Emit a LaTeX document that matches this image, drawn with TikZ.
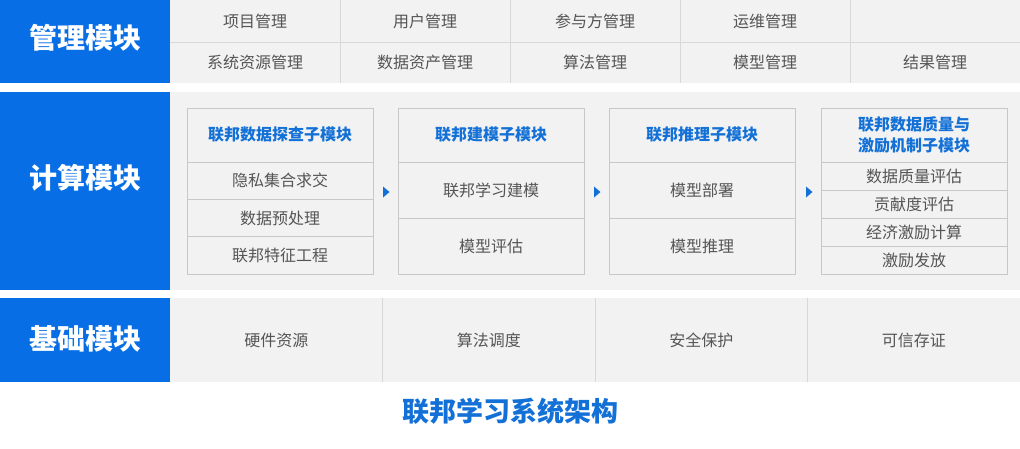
\documentclass[tikz,border=0pt]{standalone}
\usepackage{fontspec}
\setmainfont{Noto Sans CJK SC}
\usetikzlibrary{positioning}
\definecolor{mblue}{RGB}{8,110,230}
\definecolor{hblue}{RGB}{18,112,215}
\definecolor{bandgray}{RGB}{242,242,242}
\definecolor{linegray}{RGB}{216,216,216}
\definecolor{boxgray}{RGB}{200,200,200}
\definecolor{txtgray}{RGB}{85,85,85}
\tikzset{>=stealth,
  modbox/.style={fill=mblue, inner sep=0pt, outer sep=0pt, anchor=north west, minimum width=170pt},
  modname/.style={text=white, font=\fontsize{28}{30}\selectfont\bfseries},
  cell/.style={fill=bandgray, text=txtgray, font=\fontsize{16}{18}\selectfont, inner sep=0pt, outer sep=0pt, anchor=north west},
  subhead/.style={draw=boxgray, fill=bandgray, text=hblue, font=\fontsize{16}{21}\selectfont\bfseries, align=center, inner sep=0pt, outer sep=0pt, minimum width=186pt, minimum height=54pt, anchor=north west},
  subitem/.style={draw=boxgray, fill=bandgray, text=txtgray, font=\fontsize{16}{18}\selectfont, inner sep=0pt, outer sep=0pt, minimum width=186pt},
}

\begin{document}
\begin{tikzpicture}[x=1pt, y=-1pt]
\useasboundingbox (0,0) rectangle (1020,448);
% management band
\node[modbox, minimum height=83pt] (glbox) at (0,0) {};
\node[modname] (gl) at (85,38) {管理模块};
\node[cell, minimum width=170pt, minimum height=42pt] (xmgl) at (170,0) {项目管理};
\node[cell, minimum width=170pt, minimum height=42pt] (yhgl) at (340,0) {用户管理};
\node[cell, minimum width=170pt, minimum height=42pt] (cyfgl) at (510,0) {参与方管理};
\node[cell, minimum width=170pt, minimum height=42pt] (ywgl) at (680,0) {运维管理};
\node[cell, minimum width=170pt, minimum height=42pt] (kong) at (850,0) {};
\node[cell, minimum width=170pt, minimum height=41pt] (xtzy) at (170,42) {系统资源管理};
\node[cell, minimum width=170pt, minimum height=41pt] (sjzc) at (340,42) {数据资产管理};
\node[cell, minimum width=170pt, minimum height=41pt] (sfgl) at (510,42) {算法管理};
\node[cell, minimum width=170pt, minimum height=41pt] (mxgl) at (680,42) {模型管理};
\node[cell, minimum width=170pt, minimum height=41pt] (jggl) at (850,42) {结果管理};
\draw[linegray] (xmgl.south west) -- (kong.south east);
\foreach \a/\b in {xmgl/xtzy, yhgl/sjzc, cyfgl/sfgl, ywgl/mxgl}
  \draw[linegray] (\a.north east) -- (\b.south east);

% computing band
\node[modbox, minimum height=198pt] (jsbox) at (0,92) {};
\node[modname] (js) at (85,178) {计算模块};
\node[cell, minimum width=850pt, minimum height=198pt] (jsarea) at (170,92) {};
\node[subhead] (tc) at (187,108) {联邦数据探查子模块};
\node[subitem, minimum height=37.33pt, below=0pt of tc] (psi) {隐私集合求交};
\node[subitem, minimum height=37.33pt, below=0pt of psi] (yccl) {数据预处理};
\node[subitem, minimum height=37.33pt, below=0pt of yccl] (tzgc) {联邦特征工程};
\node[subhead] (jm) at (398,108) {联邦建模子模块};
\node[subitem, minimum height=56pt, below=0pt of jm] (xxjm) {联邦学习建模};
\node[subitem, minimum height=56pt, below=0pt of xxjm] (mxpg) {模型评估};
\node[subhead] (tl) at (609,108) {联邦推理子模块};
\node[subitem, minimum height=56pt, below=0pt of tl] (mxbs) {模型部署};
\node[subitem, minimum height=56pt, below=0pt of mxbs] (mxtl) {模型推理};
\node[subhead] (zl) at (821,108) {联邦数据质量与\\激励机制子模块};
\node[subitem, minimum height=28pt, below=0pt of zl] (zlpg) {数据质量评估};
\node[subitem, minimum height=28pt, below=0pt of zlpg] (gxd) {贡献度评估};
\node[subitem, minimum height=28pt, below=0pt of gxd] (jjjl) {经济激励计算};
\node[subitem, minimum height=28pt, below=0pt of jjjl] (jlff) {激励发放};
\foreach \x in {383,594,806}
  \fill[hblue] (\x,186.5) -- ++(6.5,5.5) -- ++(-6.5,5.5) -- cycle;

% base band
\node[modbox, minimum height=84pt] (jcbox) at (0,298) {};
\node[modname] (jc) at (85,339) {基础模块};
\node[cell, minimum width=212.5pt, minimum height=84pt] (yjzy) at (170,298) {硬件资源};
\node[cell, minimum width=212.5pt, minimum height=84pt] (sfdd) at (382.5,298) {算法调度};
\node[cell, minimum width=212.5pt, minimum height=84pt] (aqbh) at (595,298) {安全保护};
\node[cell, minimum width=212.5pt, minimum height=84pt] (kxcz) at (807.5,298) {可信存证};
\foreach \a in {yjzy, sfdd, aqbh}
  \draw[linegray] (\a.north east) -- (\a.south east);

\node[font=\fontsize{27}{30}\selectfont\bfseries, text=hblue] (title) at (510,411) {联邦学习系统架构};
\end{tikzpicture}
\end{document}
